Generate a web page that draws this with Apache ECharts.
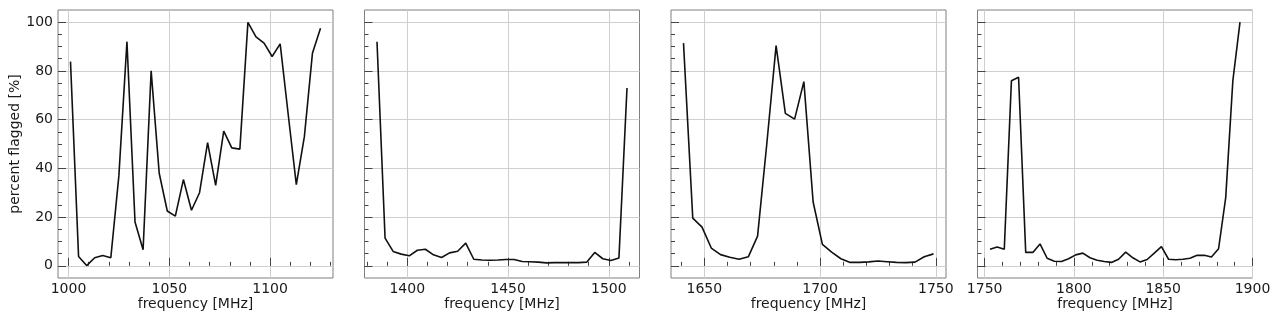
<!DOCTYPE html>
<html>
<head>
<meta charset="utf-8">
<script src="https://cdn.jsdelivr.net/npm/echarts@6/dist/echarts.min.js"></script>
<style>
html,body{margin:0;padding:0;background:#fff;}
#chart{width:1280px;height:323px;}
</style>
</head>
<body>
<div id="chart"></div>
<script>
// ---- data ----
const freq1 = [1001,1005,1009,1013,1017,1021,1025,1029,1033,1037,1041,1045,1049,1053,1057,1061,1065,1069,1073,1077,1081,1085,1089,1093,1097,1101,1105,1109,1113,1117,1121,1125];
const flag1 = [83.8,3.8,0.1,3.3,4.2,3.3,37,92,18,6.6,80,38,22.5,20.4,35.4,22.8,30,50.6,33,55.3,48.4,47.9,99.9,94,91.4,85.9,91.1,62,33.3,53,87.2,97.5];

const freq2 = [1385,1389,1393,1397,1401,1405,1409,1413,1417,1421,1425,1429,1433,1437,1441,1445,1449,1453,1457,1461,1465,1469,1473,1477,1481,1485,1489,1493,1497,1501,1505,1509];
const flag2 = [92,11.4,5.9,4.8,4.1,6.4,6.8,4.5,3.4,5.3,6.0,9.3,2.7,2.4,2.3,2.4,2.6,2.6,1.8,1.7,1.5,1.2,1.3,1.3,1.3,1.3,1.5,5.5,2.9,2.2,3.2,73];

const freq3 = [1641,1645,1649,1653,1657,1661,1665,1669,1673,1677,1681,1685,1689,1693,1697,1701,1705,1709,1713,1717,1721,1725,1729,1733,1737,1741,1745,1749];
const flag3 = [91.4,19.6,15.9,7.3,4.6,3.5,2.7,3.7,12.2,50.2,90.4,62.6,60.2,75.6,26.2,8.8,5.6,2.9,1.4,1.4,1.6,2.0,1.7,1.4,1.3,1.5,3.7,4.9];

const freq4 = [1753,1757,1761,1765,1769,1773,1777,1781,1785,1789,1793,1797,1801,1805,1809,1813,1817,1821,1825,1829,1833,1837,1841,1845,1849,1853,1857,1861,1865,1869,1873,1877,1881,1885,1889,1893];
const flag4 = [6.8,7.7,6.8,76,77.4,5.5,5.5,9.0,3.1,1.9,1.8,2.9,4.5,5.2,3.3,2.3,1.8,1.4,2.7,5.6,3.3,1.6,2.6,5.2,7.9,2.7,2.5,2.7,3.1,4.3,4.3,3.6,7.0,28,76,100];

// ---- ticks ----
const yTicks = [0,20,40,60,80,100];
const yMinorTicks = [0,5,10,15,20,25,30,35,40,45,50,55,60,65,70,75,80,85,90,95,100];
const xTicks1 = [1000,1050,1100];
const xMinor1 = [1000,1010,1020,1030,1040,1050,1060,1070,1080,1090,1100,1110,1120,1130];
const xTicks2 = [1400,1450,1500];
const xMinor2 = [1380,1390,1400,1410,1420,1430,1440,1450,1460,1470,1480,1490,1500,1510];
const xTicks3 = [1650,1700,1750];
const xMinor3 = [1640,1650,1660,1670,1680,1690,1700,1710,1720,1730,1740,1750];
const xTicks4 = [1750,1800,1850,1900];
const xMinor4 = [1750,1760,1770,1780,1790,1800,1810,1820,1830,1840,1850,1860,1870,1880,1890,1900];

const xRanges = [[994.8,1131.2],[1378.8,1515.2],[1635.6,1754.4],[1746,1900]];
const yRange = [-5,105];

const xTitle = 'frequency [MHz]';
const yTitle = 'percent flagged [%]';

// ---- layout ----
const panels = [
  {freq: freq1, flag: flag1, ticks: xTicks1, minor: xMinor1, left: 58},
  {freq: freq2, flag: flag2, ticks: xTicks2, minor: xMinor2, left: 364.5},
  {freq: freq3, flag: flag3, ticks: xTicks3, minor: xMinor3, left: 671},
  {freq: freq4, flag: flag4, ticks: xTicks4, minor: xMinor4, left: 977.5}
];
const FONT = 'DejaVu Sans';
const TXT = '#1a1a1a';
const plain = v => String(Math.round(v));

const grid = [], xAxis = [], yAxis = [], series = [];
panels.forEach((p, i) => {
  grid.push({left: p.left, top: 10, width: 275, height: 268, show: true,
    borderColor: '#7f7f7f', borderWidth: 1, backgroundColor: 'transparent'});
  // major x axis
  xAxis.push({
    type: 'value', gridIndex: i, min: xRanges[i][0], max: xRanges[i][1],
    position: 'bottom',
    name: xTitle, nameLocation: 'middle', nameGap: 19, nameMoveOverlap: false,
    nameTextStyle: {fontFamily: FONT, fontSize: 14, color: TXT},
    axisLine: {show: false},
    axisTick: {show: true, inside: true, length: 8, customValues: p.ticks,
      lineStyle: {color: '#444', width: 1}},
    axisLabel: {show: true, customValues: p.ticks, margin: 4, fontFamily: FONT, fontSize: 14, color: TXT,
      formatter: plain, showMinLabel: true, showMaxLabel: true},
    splitLine: {show: true, lineStyle: {color: '#cfcfcf', width: 1}}
  });
  // minor x axis
  xAxis.push({
    type: 'value', gridIndex: i, min: xRanges[i][0], max: xRanges[i][1],
    position: 'bottom',
    axisLine: {show: false},
    axisTick: {show: true, inside: true, length: 4, customValues: p.minor,
      lineStyle: {color: '#444', width: 1}},
    axisLabel: {show: false},
    splitLine: {show: false}
  });
  // major y axis
  yAxis.push({
    type: 'value', gridIndex: i, min: yRange[0], max: yRange[1],
    position: 'left',
    name: i === 0 ? yTitle : '', nameLocation: 'middle', nameGap: 34,
    nameTextStyle: {fontFamily: FONT, fontSize: 14, color: TXT},
    axisLine: {show: false},
    axisTick: {show: true, inside: true, length: 8, customValues: yTicks,
      lineStyle: {color: '#444', width: 1}},
    axisLabel: {show: i === 0, customValues: yTicks, margin: 5, fontFamily: FONT, fontSize: 14, color: TXT,
      formatter: plain},
    splitLine: {show: true, lineStyle: {color: '#cfcfcf', width: 1}}
  });
  // minor y axis
  yAxis.push({
    type: 'value', gridIndex: i, min: yRange[0], max: yRange[1],
    position: 'left', offset: 0,
    axisLine: {show: false},
    axisTick: {show: true, inside: true, length: 4, customValues: yMinorTicks,
      lineStyle: {color: '#444', width: 1}},
    axisLabel: {show: false},
    splitLine: {show: false}
  });
  series.push({
    type: 'line', xAxisIndex: 2 * i, yAxisIndex: 2 * i,
    data: p.freq.map((f, k) => [f, p.flag[k]]),
    showSymbol: false, symbol: 'none',
    lineStyle: {color: '#111', width: 1.6},
    animation: false
  });
});

const chart = echarts.init(document.getElementById('chart'), null, {renderer: 'canvas'});
chart.setOption({
  animation: false,
  backgroundColor: '#ffffff',
  textStyle: {fontFamily: FONT},
  grid, xAxis, yAxis, series
});
</script>
</body>
</html>
